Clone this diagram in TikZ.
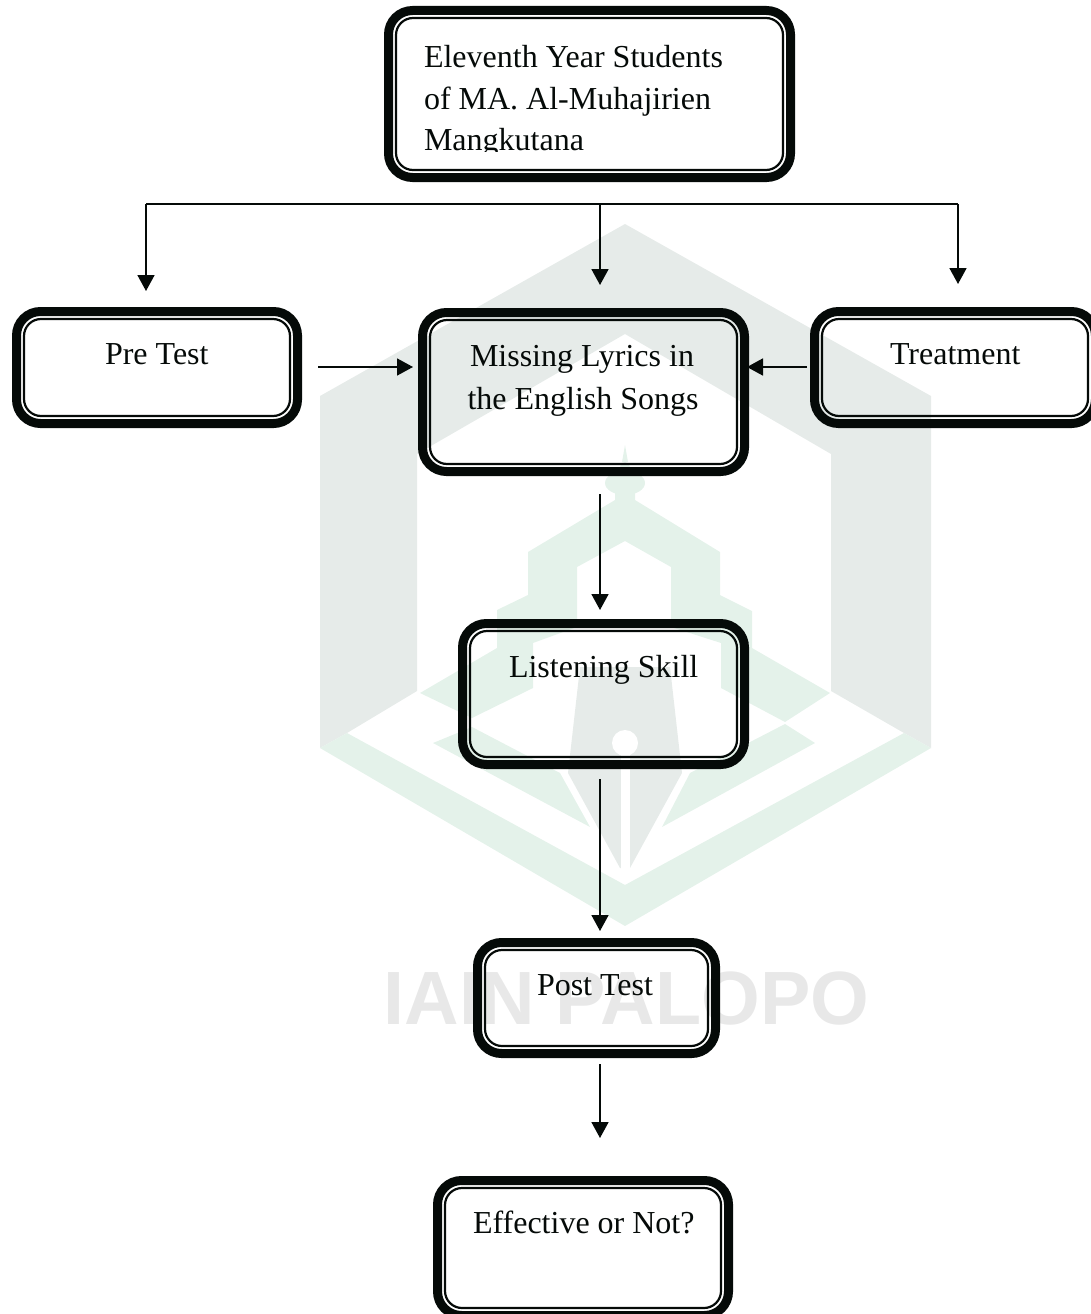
\documentclass[tikz,border=0pt]{standalone}
\usepackage{fontspec}
\setmainfont{Liberation Serif}
\newfontfamily\wmfont{Liberation Sans}
\usetikzlibrary{calc,arrows.meta}
\definecolor{wmgray}{HTML}{E6EBE9}
\definecolor{wmgreen}{HTML}{E4F2EA}
\definecolor{wmtext}{HTML}{E8E8E8}
\definecolor{ink}{HTML}{050A08}
\tikzset{
  boxouter/.style={draw=ink,line width=9pt,rounded corners=24pt,rectangle,inner sep=0pt},
  boxinner/.style={draw=ink,line width=2.2pt,rounded corners=17pt},
  lbl/.style={anchor=base west,inner sep=0pt,outer sep=0pt,font=\fontsize{32}{42}\selectfont,text=ink},
  arr/.style={draw=ink,line width=1.7pt,-{Triangle[length=16pt,width=17pt]}},
  plainline/.style={draw=ink,line width=1.7pt},
}
\newcommand{\boxat}[5]{%
  \pgfmathsetmacro{\bw}{#4-#2-9}\pgfmathsetmacro{\bh}{#5-#3-9}%
  \node[boxouter,minimum width=\bw pt,minimum height=\bh pt] (#1) at ({(#2+#4)/2},{(#3+#5)/2}) {};
  \draw[boxinner] ($(#1.north west)+(12,12)$) rectangle ($(#1.south east)+(-12,-12)$);
}
\begin{document}
\begin{tikzpicture}[x=1pt,y=-1pt]
\useasboundingbox (0,0) rectangle (1090,1314);
% watermark
\fill[wmgray] (625,224) -- (931,396) -- (931,748) -- (904,733) -- (831,691) -- (831,454) -- (625,334) -- (417,454) -- (417,691) -- (347,733) -- (320,748) -- (320,396) -- cycle;
\fill[wmgreen] (320,748) -- (347,733) -- (625,885) -- (904,733) -- (931,748) -- (625,926) -- cycle;
\fill[wmgreen] (625,445) -- (628,462) -- (622,462) -- cycle;
\fill[wmgreen] (625,467) circle (5);
\fill[wmgreen] (625,483) ellipse (20 and 12);
\fill[wmgreen] (615,490) -- (635,490) -- (635,500) -- (720,552) -- (720,595) -- (752,611) -- (752,648) -- (830,693) -- (785,722) -- (721,688) -- (721,643) -- (671,627) -- (671,567) -- (625,541) -- (577,567) -- (577,627) -- (533,643) -- (533,688) -- (472,718) -- (420,693) -- (497,648) -- (497,610) -- (528,595) -- (528,552) -- (615,500) -- cycle;
\fill[wmgreen] (433,743) -- (472,727) -- (560,773) -- (590,827) -- cycle;
\fill[wmgreen] (815,743) -- (785,724) -- (690,773) -- (662,827) -- cycle;
\fill[wmgray] (580,667) -- (670,667) -- (682,773) -- (630,868) -- (620,868) -- (568,773) -- cycle;
\fill[white] (625,743) circle (13);
\fill[white] (620.5,750) rectangle (629.5,872);
\node[anchor=base,inner sep=0pt,text=wmtext,font=\wmfont\bfseries\fontsize{75.5}{75.5}\selectfont] (wmark) at (626.5,1024) {IAIN PALOPO};
% boxes
\boxat{top}{384}{6}{795}{182}
\boxat{pre}{12}{307}{302}{428}
\boxat{missing}{418}{308}{749}{476}
\boxat{treat}{810}{307}{1100}{428}
\boxat{listen}{458}{619}{749}{769}
\boxat{post}{473}{938}{720}{1058}
\boxat{effect}{433}{1176}{733}{1320}
% labels
\node[lbl] (t1) at (424,67) {Eleventh Year Students};
\node[lbl] (t2) at (424,109) {of MA. Al-Muhajirien};
\begin{scope}
\clip (400,120) rectangle (780,151);
\node[lbl] (t3) at (424,150) {Mangkutana};
\end{scope}
\node[lbl] (tpre) at (105,364) {Pre Test};
\node[lbl] (ttreat) at (890,364) {Treatment};
\node[lbl] (tm1) at (470,366) {Missing Lyrics in};
\node[lbl] (tm2) at (467.5,409) {the English Songs};
\node[lbl] (tlisten) at (509,677) {Listening Skill};
\node[lbl] (tpost) at (537,995) {Post Test};
\node[lbl] (teffect) at (473,1233) {Effective or Not?};
% connectors
\coordinate (busl) at (146,204);
\coordinate (busm) at (600,204);
\coordinate (busr) at (958,204);
\draw[plainline] (busl) -- (busr);
\draw[arr,shorten >=16pt] (busl) -- (busl |- pre.north);
\draw[arr,shorten >=23pt] (busm) -- (busm |- missing.north);
\draw[arr,shorten >=23pt] (busr) -- (busr |- treat.north);
\coordinate (hy) at (0,367);
\draw[arr,shorten <=16pt,shorten >=5pt] (pre.east |- hy) -- (missing.west |- hy);
\draw[arr,shorten <=3pt,shorten >=-2pt] (treat.west |- hy) -- (missing.east |- hy);
\draw[arr,shorten <=18pt,shorten >=9pt] (busm |- missing.south) -- (busm |- listen.north);
\draw[arr,shorten <=10pt,shorten >=7pt] (busm |- listen.south) -- (busm |- post.north);
\draw[arr,shorten <=6pt,shorten >=38pt] (busm |- post.south) -- (busm |- effect.north);
\end{tikzpicture}
\end{document}
